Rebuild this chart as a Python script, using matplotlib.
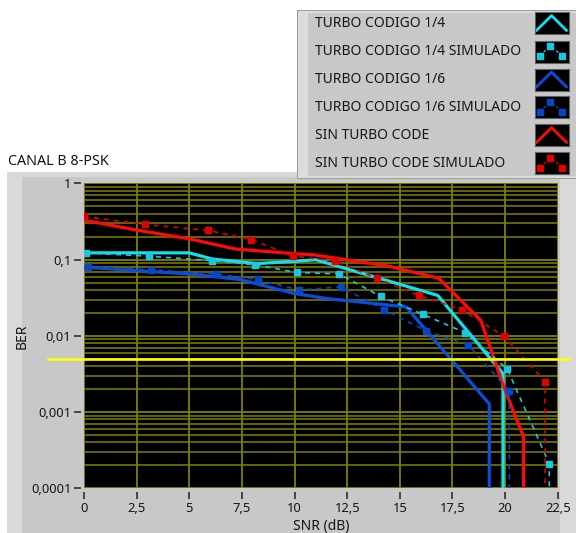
import matplotlib
matplotlib.use("Agg")
import matplotlib.pyplot as plt
from matplotlib.patches import Rectangle
from matplotlib.ticker import FixedLocator, FixedFormatter, LogLocator, NullFormatter

# ---------------- data ----------------
title = "CANAL B 8-PSK"
x_label = "SNR (dB)"
y_label = "BER"
legend_labels = ["TURBO CODIGO 1/4", "TURBO CODIGO 1/4 SIMULADO",
                 "TURBO CODIGO 1/6", "TURBO CODIGO 1/6 SIMULADO",
                 "SIN TURBO CODE", "SIN TURBO CODE SIMULADO"]

x_ticks = [0, 2.5, 5, 7.5, 10, 12.5, 15, 17.5, 20, 22.5]
x_tick_labels = ["0", "2,5", "5", "7,5", "10", "12,5", "15", "17,5", "20", "22,5"]
y_ticks = [1e-4, 1e-3, 1e-2, 1e-1, 1]
y_tick_labels = ["0,0001", "0,001", "0,01", "0,1", "1"]

# theoretical curves (last point drops to zero -> off the log axis)
t14_x = [0, 5, 6.1, 8.2, 10, 11, 16.8, 19.9, 19.9]
t14_y = [0.123, 0.123, 0.102, 0.089, 0.095, 0.100, 0.034, 0.0032, 1e-9]

t16_x = [0, 2.5, 5, 7.4, 10, 11.5, 15.3, 19.25, 19.25]
t16_y = [0.080, 0.072, 0.065, 0.055, 0.036, 0.031, 0.024, 0.00128, 1e-9]

sin_x = [0, 2.5, 5, 7.2, 10, 10.9, 14.5, 16.85, 18.85, 19.87, 20.88, 20.88]
sin_y = [0.33, 0.245, 0.188, 0.138, 0.120, 0.116, 0.082, 0.057, 0.016, 0.0024, 0.00047, 1e-9]

# simulated curves
s14_x = [0.1, 3.1, 6.1, 8.1, 10.1, 12.1, 14.1, 16.1, 18.1, 20.1, 22.1, 22.1]
s14_y = [0.123, 0.111, 0.097, 0.086, 0.068, 0.065, 0.033, 0.0192, 0.011, 0.0037, 0.00021, 1e-9]

s16_x = [0.2, 3.2, 6.25, 8.25, 10.2, 12.2, 14.25, 16.25, 18.25, 20.2, 20.2]
s16_y = [0.080, 0.074, 0.065, 0.055, 0.040, 0.044, 0.022, 0.0117, 0.0076, 0.0019, 1e-9]

ssin_x = [0, 2.9, 5.9, 7.95, 9.95, 11.9, 13.9, 15.9, 17.95, 19.95, 21.9, 21.9]
ssin_y = [0.37, 0.29, 0.242, 0.184, 0.111, 0.097, 0.057, 0.034, 0.022, 0.0099, 0.0025, 1e-9]

threshold = 0.005

# ---------------- style ----------------
plt.rcParams['font.family'] = ['Noto Sans', 'DejaVu Sans']
W, H = 576, 533
fig = plt.figure(figsize=(W / 100, H / 100), dpi=100)
fig.patch.set_facecolor("white")

def fx(px):
    return px / W

def fy(py):
    return 1 - py / H

def frect(x0, y0, x1, y1, color, z):
    fig.add_artist(Rectangle((fx(x0), fy(y1)), fx(x1) - fx(x0), (y1 - y0) / H,
                             transform=fig.transFigure, facecolor=color,
                             edgecolor="none", zorder=z))

# graph panel
frect(6.7, 171.7, 576, 533, "#d9d9d9", -5)
frect(21.7, 176.7, 560, 533, "#c8c8c8", -5)
# legend panel (drawn above the main axes, below legend swatches)
frect(297, 10, 576, 179, "#9a9a9a", 1)
frect(298, 11, 576, 178, "#dcdcdc", 1)
frect(308, 13, 576, 176, "#c8c8c8", 1)

TXT = "#14141c"
fig.text(fx(7.5), fy(161), title, fontsize=10.3, color=TXT, va="center", ha="left")

c_cyan = "#10e0f0"
c_cyan_s = "#18c8e0"
c_blue = "#0a4ee0"
c_blue_s = "#0846c8"
c_red = "#ff0a0a"
c_red_s = "#e00000"

# ---------------- main axes ----------------
ax = fig.add_axes([fx(84), fy(488.3), fx(557.7) - fx(84), (488.3 - 183.5) / H])
ax.set_zorder(0)
ax.set_facecolor("black")
ax.set_yscale("log")
ax.set_xlim(0, 22.5)
ax.set_ylim(1e-4, 1)

ax.xaxis.set_major_locator(FixedLocator(x_ticks))
ax.xaxis.set_major_formatter(FixedFormatter(x_tick_labels))
ax.yaxis.set_major_locator(FixedLocator(y_ticks))
ax.yaxis.set_major_formatter(FixedFormatter(y_tick_labels))
ax.yaxis.set_minor_locator(LogLocator(base=10, subs=[2, 3, 4, 5, 6, 7, 8, 9]))
ax.yaxis.set_minor_formatter(NullFormatter())

grid_c = "#808000"
ax.grid(which="major", axis="both", color=grid_c, lw=1.3)
ax.grid(which="minor", axis="y", color=grid_c, lw=1.1)
ax.set_axisbelow(True)

for s in ax.spines.values():
    s.set_visible(False)
ax.spines["bottom"].set_position(("outward", 3))
ax.spines["left"].set_position(("outward", 2))
ax.tick_params(axis="both", which="major", direction="out", length=5, width=1.2,
               color="#303030", labelsize=9.3, labelcolor=TXT, pad=2)
ax.tick_params(axis="y", which="minor", length=0)
ax.tick_params(axis="x", pad=2)

ax.set_xlabel(x_label, fontsize=10, color=TXT, labelpad=3)
ax.set_ylabel(y_label, fontsize=10, color=TXT, labelpad=1)

lw_t = 2.3
lw_s = 1.2
ms = 4.8
dash = (0, (3, 3))

ax.plot(t14_x, t14_y, color=c_cyan, lw=lw_t, zorder=3)
ax.plot(s14_x[:-1], s14_y[:-1], ls="none", marker="s", ms=ms, color=c_cyan_s, zorder=4)
ax.plot(s14_x, s14_y, color=c_cyan_s, lw=lw_s, ls=dash, zorder=4)
ax.plot(t16_x, t16_y, color=c_blue, lw=lw_t, zorder=3)
ax.plot(s16_x[:-1], s16_y[:-1], ls="none", marker="s", ms=ms, color=c_blue_s, zorder=4)
ax.plot(s16_x, s16_y, color=c_blue_s, lw=lw_s, ls=dash, zorder=4)
ax.plot(sin_x, sin_y, color=c_red, lw=lw_t, zorder=3)
ax.plot(ssin_x[:-1], ssin_y[:-1], ls="none", marker="s", ms=ms, color=c_red_s, zorder=4)
ax.plot(ssin_x, ssin_y, color=c_red_s, lw=lw_s, ls=dash, zorder=4)

x0f = (47.7 - 84) / (557.7 - 84)
x1f = (568.7 - 84) / (557.7 - 84)
ax.axhline(threshold, xmin=x0f, xmax=x1f, color="#ffff00", lw=1.9, clip_on=False, zorder=5)

# ---------------- legend ----------------
row_y = [23.3, 51.5, 79.8, 107.3, 135.3, 163.3]
styles = [(c_cyan, False), (c_cyan_s, True), (c_blue, False),
          (c_blue_s, True), (c_red, False), (c_red_s, True)]
for lab, ry, (col, sim) in zip(legend_labels, row_y, styles):
    fig.text(fx(315), fy(ry), lab, fontsize=10, color=TXT, va="center", ha="left",
             zorder=6)
    lax = fig.add_axes([fx(534.5), fy(ry + 11), fx(568.5) - fx(534.5), 22 / H])
    lax.set_zorder(5)
    lax.set_facecolor("black")
    lax.set_xlim(0, 1)
    lax.set_ylim(0, 1)
    lax.set_xticks([])
    lax.set_yticks([])
    for s in lax.spines.values():
        s.set_color("#606060")
        s.set_linewidth(0.8)
    if sim:
        lax.plot([0.15, 0.47, 0.82], [0.3, 0.75, 0.3], color=col, lw=1.0, ls=(0, (2, 2)))
        lax.plot([0.15, 0.47, 0.82], [0.3, 0.75, 0.3], ls="none", marker="s",
                 ms=4.5, color=col)
    else:
        lax.plot([0.06, 0.5, 0.94], [0.18, 0.85, 0.18], color=col, lw=2.0)

fig.savefig("out.png", dpi=100)
